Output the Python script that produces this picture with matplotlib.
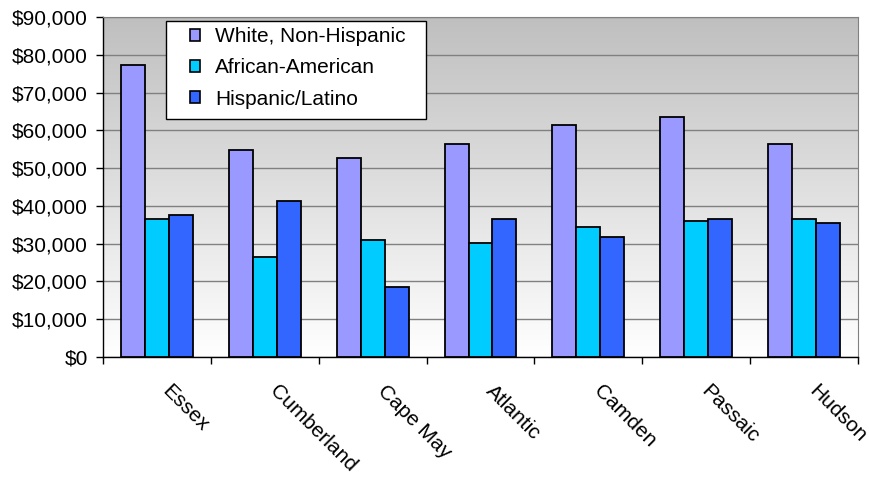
import numpy as np
import matplotlib.pyplot as plt
import matplotlib.transforms as mtransforms
from matplotlib.patches import Patch, Rectangle
from matplotlib.ticker import FuncFormatter

counties = ['Essex', 'Cumberland', 'Cape May', 'Atlantic', 'Camden', 'Passaic', 'Hudson']
white = [77200, 54900, 52800, 56500, 61400, 63500, 56500]
african_american = [36400, 26400, 31100, 30100, 34300, 35900, 36500]
hispanic = [37600, 41300, 18500, 36500, 31700, 36500, 35400]

series_names = ['White, Non-Hispanic', 'African-American', 'Hispanic/Latino']
colors = ['#9999FF', '#00CCFF', '#3366FF']

plt.rcParams['font.family'] = ['Liberation Sans', 'DejaVu Sans']

W, H = 870, 479
fig = plt.figure(figsize=(8.7, 4.79), dpi=100)
ax = fig.add_axes([103 / W, 1 - 357 / H, 755 / W, 340 / H])

# gray-to-white gradient in the plot area
grad = np.linspace(0.75, 1.0, 256).reshape(-1, 1)
ax.imshow(np.dstack([grad, grad, grad]), extent=[0, 1, 0, 1], transform=ax.transAxes,
          aspect='auto', zorder=0, origin='upper')

x = np.arange(len(counties))
w = 0.222
for i, (vals, c) in enumerate(zip([white, african_american, hispanic], colors)):
    ax.bar(x + (i - 1) * w, vals, width=w, color=c, edgecolor='black', linewidth=1.3, zorder=3)

ax.set_xlim(-0.5, len(counties) - 0.5)
ax.set_ylim(0, 90000)
ax.set_yticks(np.arange(0, 90001, 10000))
ax.yaxis.set_major_formatter(FuncFormatter(lambda v, p: '${:,.0f}'.format(v)))
ax.yaxis.grid(True, color='#808080', linewidth=1, zorder=1)
ax.set_axisbelow(True)

ax.set_xticks(x)
ax.set_xticklabels(counties, rotation=-45, ha='left', rotation_mode='anchor')
ax.set_xticks(np.arange(-0.5, len(counties)), minor=True)
ax.tick_params(axis='x', which='major', length=0, pad=17.5, labelsize=15)
ax.tick_params(axis='x', which='minor', length=5, width=1, color='black')
ax.tick_params(axis='y', length=5, width=1, pad=6, labelsize=15)
shift = mtransforms.ScaledTranslation(15 / 100, 0, fig.dpi_scale_trans)
for lab in ax.get_xticklabels():
    lab.set_transform(lab.get_transform() + shift)

for s in ['top', 'right']:
    ax.spines[s].set_color('#808080')
for s in ['left', 'bottom']:
    ax.spines[s].set_color('black')
    ax.spines[s].set_linewidth(1)

# legend box
fig.add_artist(Rectangle((166 / W, 1 - 119 / H), 260 / W, 98 / H, transform=fig.transFigure,
                         facecolor='white', edgecolor='black', linewidth=1, zorder=4))
handles = [Patch(facecolor=c, edgecolor='black', linewidth=1.2) for c in colors]
leg = fig.legend(handles, series_names, loc='upper left',
                 bbox_to_anchor=(190 / W, 1 - 27 / H), bbox_transform=fig.transFigure,
                 fontsize=15, frameon=False, borderaxespad=0, borderpad=0,
                 handlelength=0.5, handleheight=0.5, handletextpad=0.7, labelspacing=0.59)
leg.set_zorder(5)

fig.savefig('out.png', dpi=100)
